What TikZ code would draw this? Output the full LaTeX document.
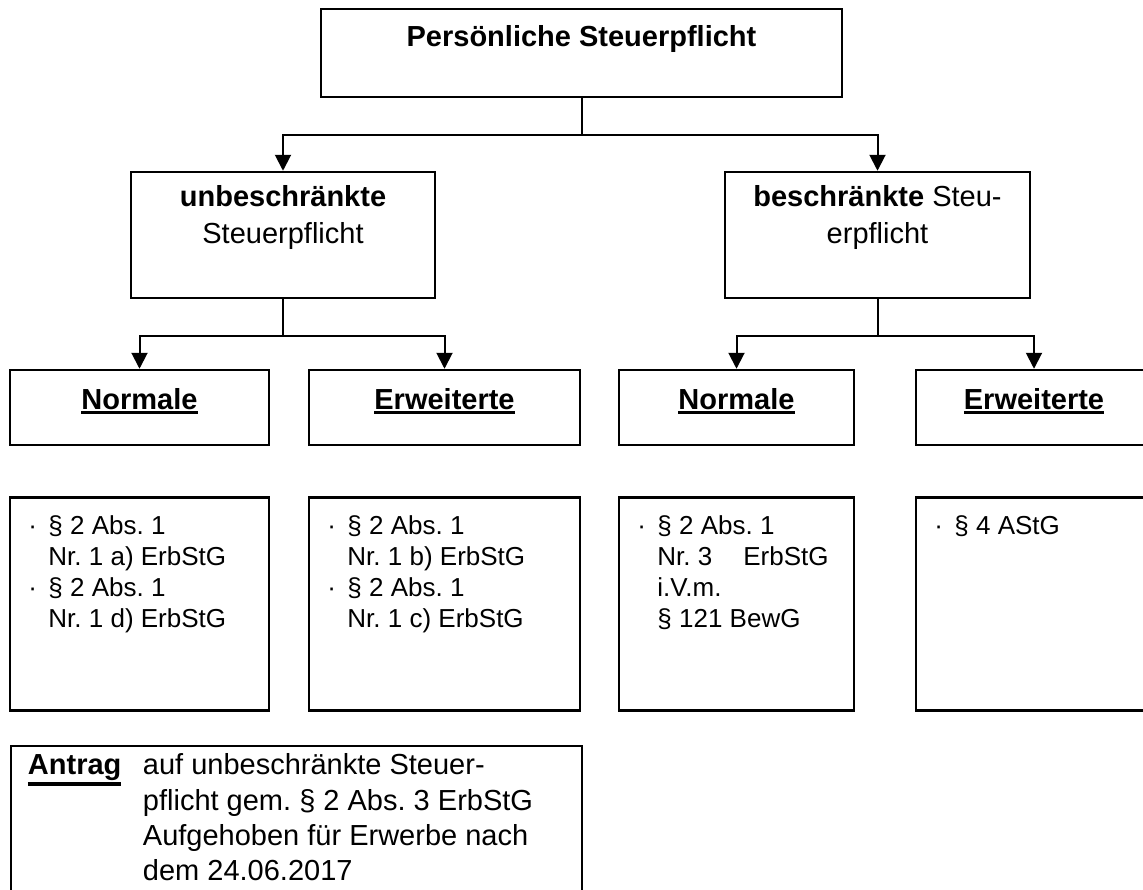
\documentclass[tikz,border=0pt]{standalone}
\usepackage{fontspec}
\setmainfont{Liberation Sans}
\usepackage{tikz}
\usetikzlibrary{positioning,arrows.meta}
\tikzstyle{box} = [ rectangle, draw = black, line width = 2.5pt, %
                    inner sep = 0pt ]
\tikzstyle{head} = [ font = \fontsize{29}{37}\selectfont\frenchspacing, %
                     align = center, inner sep = 0pt ]
\tikzstyle{list} = [ font = \fontsize{26}{31}\selectfont\frenchspacing, %
                     inner sep = 0pt ]
\tikzstyle{note} = [ font = \fontsize{29}{35}\selectfont\frenchspacing, %
                     inner sep = 0pt ]
\tikzstyle{conn} = [line width = 2pt]
\tikzstyle{arrow} = [line width = 2pt,->,>={Triangle[length=16pt,width=16pt]}]
\newcommand{\ulbf}[1]{\leavevmode\setbox0=\hbox{\bfseries #1}%
  \rlap{\rule[\dimexpr-\dp0-4.5pt\relax]{\wd0}{3.5pt}}\box0}

\begin{document}
\begin{tikzpicture}[x = 1pt, y = 1pt]
      \useasboundingbox (0,0) rectangle (1143,-889);
      \clip (0,0) rectangle (1143,-889);
      % Boxes
      \node (top) [box, minimum width = 521pt, minimum height = 88pt] %
        at (581.5,-53) {};
      \node (unb) [box, minimum width = 304pt, minimum height = 126pt] %
        at (283,-235) {};
      \node (bes) [box, minimum width = 305pt, minimum height = 126pt] %
        at (877.5,-235) {};
      \node (unbN) [box, minimum width = 259pt, minimum height = 75pt] %
        at (139.5,-407.5) {};
      \node (unbE) [box, minimum width = 271pt, minimum height = 75pt] %
        at (444.5,-407.5) {};
      \node (besN) [box, minimum width = 235pt, minimum height = 75pt] %
        at (736.5,-407.5) {};
      \node (besE) [box, minimum width = 236pt, minimum height = 75pt] %
        at (1034,-407.5) {};
      \node (unbNlaw) [box, minimum width = 259pt, minimum height = 213pt, %
        below = 50pt of unbN] {};
      \node (unbElaw) [box, minimum width = 271pt, minimum height = 213pt, %
        below = 50pt of unbE] {};
      \node (besNlaw) [box, minimum width = 235pt, minimum height = 213pt, %
        below = 50pt of besN] {};
      \node (besElaw) [box, minimum width = 236pt, minimum height = 213pt, %
        below = 50pt of besE] {};
      \node (antrag) [box, minimum width = 571pt, minimum height = 160pt, %
        below right = 33pt and 1pt of unbNlaw.south west] {};
      % Texts
      \node (topTxt) [head, below = 13pt of top.north] %
        {\strut\textbf{Persönliche Steuerpflicht}};
      \node (unbTxt) [head, below = 10pt of unb.north] %
        {\strut\textbf{unbeschränkte}\\Steuerpflicht};
      \node (besTxt) [head, below = 10pt of bes.north] %
        {\strut\textbf{beschränkte} Steu-\\erpflicht};
      \node (unbNTxt) [head, below = 14.6pt of unbN.north] {\strut\ulbf{Normale}};
      \node (unbETxt) [head, below = 14.6pt of unbE.north] {\strut\ulbf{Erweiterte}};
      \node (besNTxt) [head, below = 14.6pt of besN.north] {\strut\ulbf{Normale}};
      \node (besETxt) [head, below = 14.6pt of besE.north] {\strut\ulbf{Erweiterte}};
      \node (unbNList) [list, below right = 16.3pt and 19.5pt of unbNlaw.north west] %
        {\begin{tabular}{@{}p{20pt}@{}l@{}}
          · & § 2 Abs. 1\\ & Nr. 1 a) ErbStG\\
          · & § 2 Abs. 1\\ & Nr. 1 d) ErbStG
         \end{tabular}};
      \node (unbEList) [list, below right = 16.3pt and 19.5pt of unbElaw.north west] %
        {\begin{tabular}{@{}p{20pt}@{}l@{}}
          · & § 2 Abs. 1\\ & Nr. 1 b) ErbStG\\
          · & § 2 Abs. 1\\ & Nr. 1 c) ErbStG
         \end{tabular}};
      \node (besNList) [list, below right = 16.3pt and 19.5pt of besNlaw.north west] %
        {\begin{tabular}{@{}p{20pt}@{}l@{}}
          · & § 2 Abs. 1\\ & Nr. 3\hspace{31pt}ErbStG\\
            & i.V.m.\\ & § 121 BewG
         \end{tabular}};
      \node (besEList) [list, below right = 16.3pt and 19.5pt of besElaw.north west] %
        {\begin{tabular}{@{}p{20pt}@{}l@{}}
          · & § 4 AStG
         \end{tabular}};
      \node (antragTxt) [note, below right = 5.5pt and 18pt of antrag.north west] %
        {\begin{tabular}{@{}p{115pt}@{}l@{}}
          \ulbf{Antrag} & auf unbeschränkte Steuer-\\
            & pflicht gem. § 2 Abs. 3 ErbStG\\
            & Aufgehoben für Erwerbe nach\\
            & dem 24.06.2017
         \end{tabular}};
      % Arrows
      \coordinate (topJoin) at ([yshift=-37pt]top.south);
      \coordinate (unbJoin) at ([yshift=-37pt]unb.south);
      \coordinate (besJoin) at ([yshift=-37pt]bes.south);
      \draw [conn] (top) -- (topJoin);
      \draw [arrow] (topJoin) -| (unb);
      \draw [arrow] (topJoin) -| (bes);
      \draw [conn] (unb) -- (unbJoin);
      \draw [arrow] (unbJoin) -| (unbN);
      \draw [arrow] (unbJoin) -| (unbE);
      \draw [conn] (bes) -- (besJoin);
      \draw [arrow] (besJoin) -| (besN);
      \draw [arrow] (besJoin) -| (besE);
\end{tikzpicture}
\end{document}
